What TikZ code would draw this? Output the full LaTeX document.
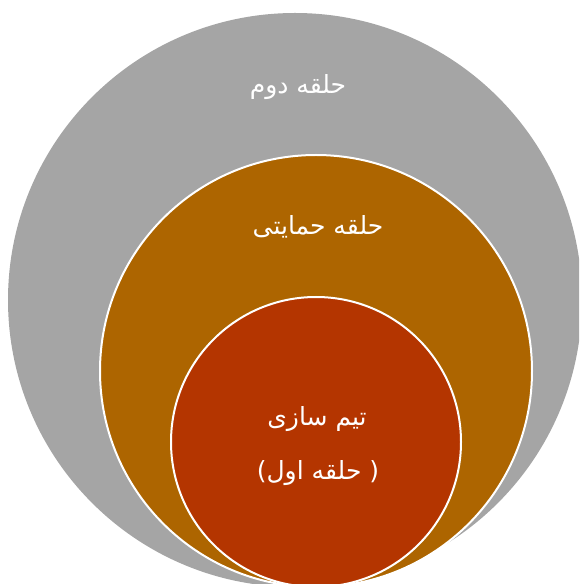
\documentclass[tikz,border=0pt]{standalone}
\usepackage{fontspec}
\newfontfamily\arabicfont[Script=Arabic]{DejaVu Sans}
\TeXXeTstate=1
\definecolor{ringgray}{HTML}{A5A5A5}
\definecolor{ringbrown}{HTML}{AD6500}
\definecolor{ringred}{HTML}{B43500}
\tikzset{
  ring/.style={draw=white, line width=2pt},
  label/.style={text=white, font=\arabicfont\fontsize{25}{30}\selectfont, inner sep=0pt}
}
\begin{document}
\begin{tikzpicture}[x=1pt, y=1pt]
  \useasboundingbox (0,0) rectangle (579,584);
  \clip (0,0) rectangle (579,584);
  % outer, middle and inner rings, all touching at the bottom
  \fill[ringgray] (295,284) circle (287);
  \filldraw[ring, fill=ringbrown] (316,213) circle (216);
  \filldraw[ring, fill=ringred] (316,142) circle (145);
  % labels (the Arabic font mirrors the brackets, hence the swapped pair)
  \node[label] (outerlbl) at (298,497) {\beginR حلقه دوم\endR};
  \node[label] (midlbl) at (318,357) {\beginR حلقه حمایتی\endR};
  \node[label] (innerlbl) at (317,165) {\beginR تیم سازی\endR};
  \node[label] (innerlbl2) at (318,111) {)\beginR حلقه اول\endR\ (};
\end{tikzpicture}
\end{document}
